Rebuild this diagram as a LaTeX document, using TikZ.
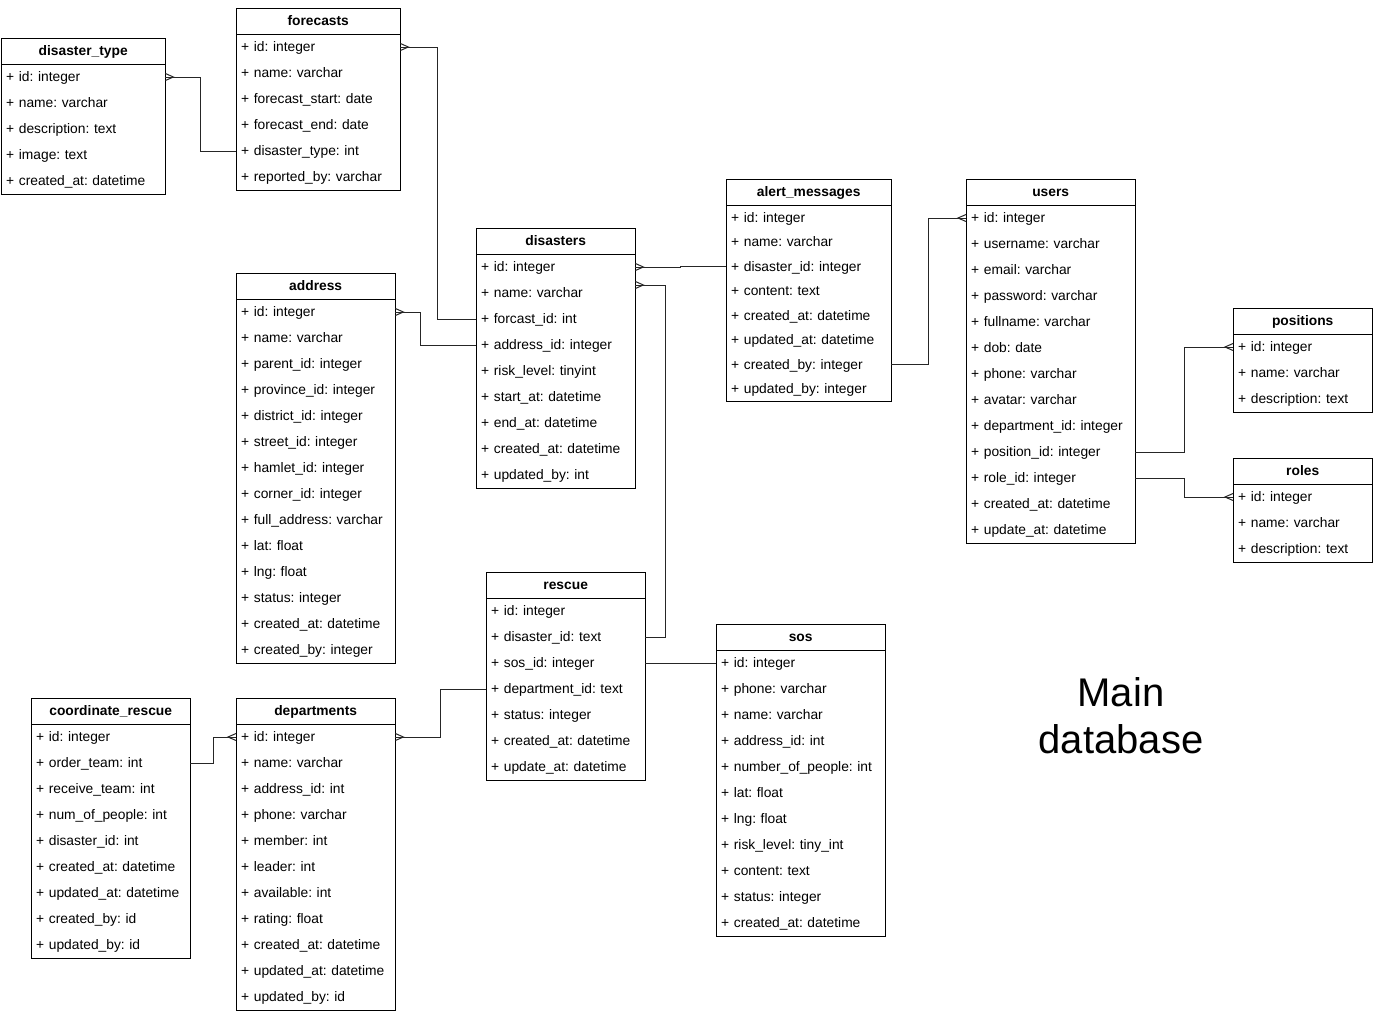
\documentclass[tikz,border=0pt]{standalone}
\usepackage{fontspec}
\setmainfont{Liberation Sans}
\frenchspacing
\tikzset{
  hdr/.style={inner sep=0pt, minimum height=26, text height=10, text depth=1, font=\bfseries\fontsize{13.8}{16}\selectfont},
  rowtext/.style={inner xsep=5pt, inner ysep=0pt, text height=10, text depth=0.5, align=left, font=\fontsize{13.8}{16}\selectfont},
  tbl/.style={line width=1pt, black},
  conn/.style={line width=1pt, black!85},
}
\newcommand{\ertable}[8]{%
  \pgfmathsetmacro\ertw{#4-10}%
  \node[hdr, minimum width=#4, anchor=north west] (#1) at (#2,#3) {#6};
  \foreach \r [count=\i] in {#8} {
    \node[rowtext, text width=\ertw pt, minimum height=#5, anchor=west] (#1-\i) at ({#2},{#3+26+(\i-0.5)*#5}) {+ \r};
  }
  \draw[tbl] (#2,#3) rectangle ++(#4,{26+#7*#5});
  \draw[tbl] (#2,{#3+26}) -- ++(#4,0);
}
\newcommand{\crowR}[1]{\draw[conn] ([yshift=3.5pt]#1) -- ([xshift=8pt]#1) -- ([yshift=-3.5pt]#1);}
\newcommand{\crowL}[1]{\draw[conn] ([yshift=3.5pt]#1) -- ([xshift=-8pt]#1) -- ([yshift=-3.5pt]#1);}
\begin{document}
\begin{tikzpicture}[x=1pt,y=-1pt]
\fill[white] (0,0) rectangle (1377,1021);
\useasboundingbox (0,0) rectangle (1377,1021);

\ertable{dtype}{1}{38}{164}{26}{disaster\_type}{5}{id: integer, name: varchar, description: text, image: text, created\_at: datetime}
\ertable{forecasts}{236}{8}{164}{26}{forecasts}{6}{id: integer, name: varchar, forecast\_start: date, forecast\_end: date, disaster\_type: int, reported\_by: varchar}
\ertable{address}{236}{273}{159}{26}{address}{14}{id: integer, name: varchar, parent\_id: integer, province\_id: integer, district\_id: integer, street\_id: integer, hamlet\_id: integer, corner\_id: integer, full\_address: varchar, lat: float, lng: float, status: integer, created\_at: datetime, created\_by: integer}
\ertable{disasters}{476}{228}{159}{26}{disasters}{9}{id: integer, name: varchar, forcast\_id: int, address\_id: integer, risk\_level: tinyint, start\_at: datetime, end\_at: datetime, created\_at: datetime, updated\_by: int}
\ertable{alerts}{726}{179}{165}{24.5}{alert\_messages}{8}{id: integer, name: varchar, disaster\_id: integer, content: text, created\_at: datetime, updated\_at: datetime, created\_by: integer, updated\_by: integer}
\ertable{users}{966}{179}{169}{26}{users}{13}{id: integer, username: varchar, email: varchar, password: varchar, fullname: varchar, dob: date, phone: varchar, avatar: varchar, department\_id: integer, position\_id: integer, role\_id: integer, created\_at: datetime, update\_at: datetime}
\ertable{positions}{1233}{308}{139}{26}{positions}{3}{id: integer, name: varchar, description: text}
\ertable{roles}{1233}{458}{139}{26}{roles}{3}{id: integer, name: varchar, description: text}
\ertable{rescue}{486}{572}{159}{26}{rescue}{7}{id: integer, disaster\_id: text, sos\_id: integer, department\_id: text, status: integer, created\_at: datetime, update\_at: datetime}
\ertable{sos}{716}{624}{169}{26}{sos}{11}{id: integer, phone: varchar, name: varchar, address\_id: int, number\_of\_people: int, lat: float, lng: float, risk\_level: tiny\_int, content: text, status: integer, created\_at: datetime}
\ertable{coord}{31}{698}{159}{26}{coordinate\_rescue}{9}{id: integer, order\_team: int, receive\_team: int, num\_of\_people: int, disaster\_id: int, created\_at: datetime, updated\_at: datetime, created\_by: id, updated\_by: id}
\ertable{departments}{236}{698}{159}{26}{departments}{11}{id: integer, name: varchar, address\_id: int, phone: varchar, member: int, leader: int, available: int, rating: float, created\_at: datetime, updated\_at: datetime, updated\_by: id}

% connectors
\draw[conn] (dtype-1.east) -- ++(35,0) |- (forecasts-5.west);
\crowR{dtype-1.east}
\draw[conn] (forecasts-1.east) -- ++(37,0) |- (disasters-3.west);
\crowR{forecasts-1.east}
\draw[conn] (address-1.east) -- ++(25,0) |- (disasters-4.west);
\crowR{address-1.east}
\draw[conn] (disasters-1.east) -- ++(45,0) |- (alerts-3.west);
\crowR{disasters-1.east}
\coordinate (dis2) at ([yshift=8pt]disasters-2.east);
\draw[conn] (dis2) -- ++(30,0) |- (rescue-2.east);
\crowR{dis2}
\draw[conn] (users-1.west) -- ++(-38,0) |- (alerts-7.east);
\crowL{users-1.west}
\draw[conn] (users-10.east) -- ++(49,0) |- (positions-1.west);
\crowL{positions-1.west}
\draw[conn] (users-11.east) -- ++(49,0) |- (roles-1.west);
\crowL{roles-1.west}
\draw[conn] (rescue-3.east) -- (sos-1.west);
\draw[conn] (rescue-4.west) -- ++(-46,0) |- (departments-1.east);
\crowR{departments-1.east}
\draw[conn] (coord-2.east) -- ++(23,0) |- (departments-1.west);
\crowL{departments-1.west}

\node[font=\fontsize{40}{47}\selectfont, align=center] (title) at (1121,716) {Main\\database};
\end{tikzpicture}
\end{document}
